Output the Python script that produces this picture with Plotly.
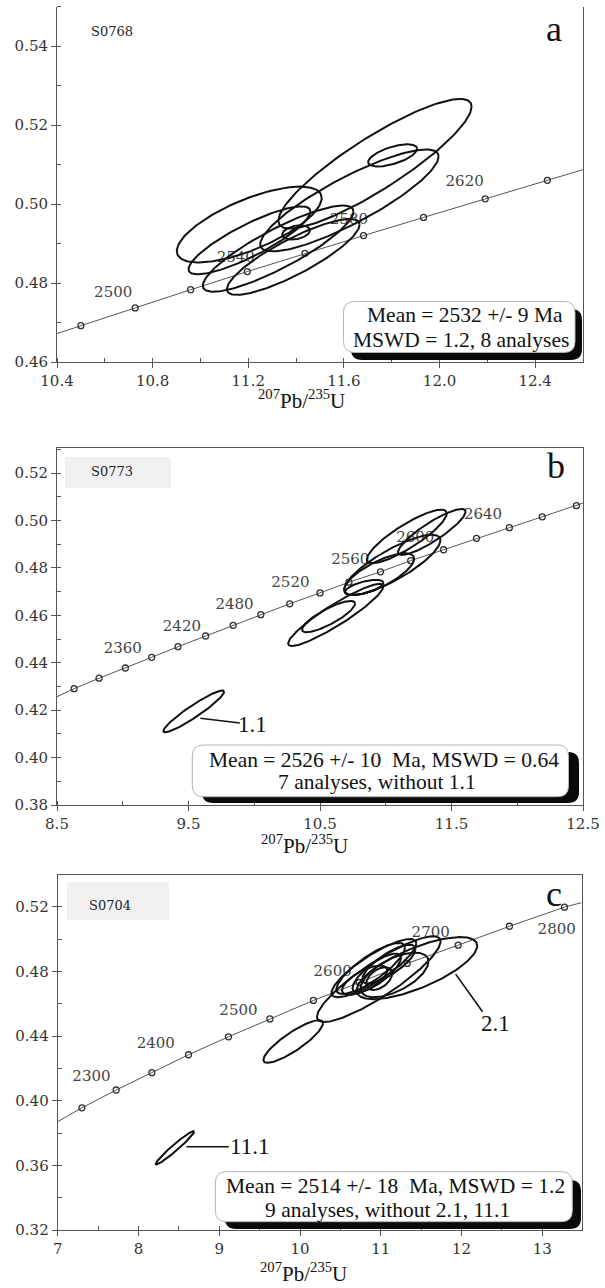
import numpy as np
import plotly.graph_objects as go

W, H = 605, 1288

# ---------------- Panel a (S0768) ----------------
a_tick_x = [10.500, 10.727, 10.959, 11.196, 11.437, 11.682, 11.933, 12.191, 12.451]
a_tick_y = [0.4692, 0.4737, 0.4783, 0.4829, 0.4875, 0.4920, 0.4966, 0.5013, 0.5060]
a_end_x = [10.40, 12.60]
a_end_y = [0.4672, 0.5087]
a_label_text = ["2500", "2540", "2580", "2620"]
a_label_x = [10.635, 11.148, 11.621, 12.105]
a_label_y = [0.4775, 0.4862, 0.4959, 0.5054]
a_cx = [11.730, 11.804, 11.623, 11.204, 11.205, 11.325, 11.388, 11.400]
a_sx = [0.404, 0.1025, 0.373, 0.303, 0.255, 0.315, 0.2775, 0.058]
a_cy = [0.5102, 0.5123, 0.5009, 0.4948, 0.4908, 0.4887, 0.4866, 0.4928]
a_sy = [0.0164, 0.0028, 0.0129, 0.0096, 0.0086, 0.0109, 0.0096, 0.0018]
a_rho = [0.88, 0.60, 0.86, 0.70, 0.85, 0.86, 0.85, 0.30]

# ---------------- Panel b (S0773) ----------------
b_tick_x = [8.63, 8.82, 9.02, 9.22, 9.42, 9.63, 9.84, 10.05, 10.27, 10.50,
            10.72, 10.96, 11.19, 11.44, 11.69, 11.94, 12.19, 12.45]
b_tick_y = [0.4291, 0.4335, 0.4378, 0.4423, 0.4468, 0.4513, 0.4558, 0.4603, 0.4649,
            0.4695, 0.4740, 0.4784, 0.4831, 0.4877, 0.4925, 0.4970, 0.5016, 0.5063]
b_end_x = [8.50, 12.50]
b_end_y = [0.4257, 0.5074]
b_label_text = ["2360", "2420", "2480", "2520", "2560", "2600", "2640"]
b_label_x = [9.00, 9.45, 9.85, 10.275, 10.73, 11.225, 11.74]
b_label_y = [0.4457, 0.4552, 0.4644, 0.4735, 0.4834, 0.4925, 0.5024]
b_cx = [11.160, 11.350, 11.050, 10.950, 10.836, 10.620, 10.565, 9.540]
b_sx = [0.304, 0.257, 0.366, 0.266, 0.146, 0.362, 0.2015, 0.231]
b_cy = [0.4933, 0.4952, 0.4813, 0.4774, 0.4718, 0.4602, 0.4595, 0.4195]
b_sy = [0.0113, 0.0097, 0.0127, 0.0088, 0.0032, 0.0131, 0.0066, 0.0088]
b_rho = [0.86, 0.88, 0.82, 0.74, 0.60, 0.92, 0.83, 0.94]
b_out_text = ["1.1"]
b_out_x = [9.99]
b_out_y = [0.4138]
b_lead_x = [9.59, 9.89]
b_lead_y = [0.4166, 0.4146]

# ---------------- Panel c (S0704) ----------------
c_tick_x = [7.30, 7.724, 8.166, 8.619, 9.114, 9.627, 10.166, 10.733, 11.327, 11.958, 12.593, 13.274]
c_tick_y = [0.3956, 0.4066, 0.4173, 0.4284, 0.4395, 0.4506, 0.4620, 0.4731, 0.4849, 0.4962, 0.5079, 0.5197]
c_end_x = [7.00, 13.485]
c_end_y = [0.3870, 0.5225]
c_label_text = ["2300", "2400", "2500", "2600", "2700", "2800"]
c_label_x = [7.418, 8.214, 9.238, 10.404, 11.618, 13.178]
c_label_y = [0.4142, 0.4348, 0.4556, 0.4797, 0.5034, 0.5055]
c_cx = [10.915, 10.875, 11.170, 10.980, 10.950, 11.100, 10.800, 10.975, 9.916, 11.447, 8.452]
c_sx = [0.525, 0.425, 0.420, 0.160, 0.300, 0.330, 0.280, 0.765, 0.369, 0.747, 0.2375]
c_cy = [0.4820, 0.4818, 0.4778, 0.4755, 0.4790, 0.4845, 0.4745, 0.4752, 0.4366, 0.4820, 0.3709]
c_sy = [0.0180, 0.0158, 0.0138, 0.0070, 0.0120, 0.0120, 0.0090, 0.0265, 0.0132, 0.0192, 0.0103]
c_rho = [0.85, 0.82, 0.60, 0.45, 0.78, 0.78, 0.68, 0.88, 0.86, 0.72, 0.97]
c_out_text = ["11.1", "2.1"]
c_out_x = [9.38, 12.424]
c_out_y = [0.3715, 0.4478]
c_lead1_x = [8.594, 9.118]
c_lead1_y = [0.3715, 0.3715]
c_lead2_x = [11.927, 12.26]
c_lead2_y = [0.4783, 0.4550]

samples = ["S0768", "S0773", "S0704"]
letters = ["a", "b", "c"]
means = [["Mean = 2532 +/- 9 Ma", "MSWD = 1.2, 8 analyses"],
         ["Mean = 2526 +/- 10 \u00a0Ma, MSWD = 0.64", "7 analyses, without 1.1"],
         ["Mean = 2514 +/- 18 \u00a0Ma, MSWD = 1.2", "9 analyses, without 2.1, 11.1"]]

SERIF_W = "DejaVu Serif, Liberation Serif, serif"
SERIF_T = "Liberation Serif, Times New Roman, serif"


def ellipse(cx, sx, cy, sy, rho, n=160):
    t = np.linspace(0, 2 * np.pi, n)
    x = cx + sx * np.cos(t)
    y = cy + sy * (rho * np.cos(t) + np.sqrt(1 - rho ** 2) * np.sin(t))
    return x, y


fig = go.Figure()

panels = [
    dict(tx=a_tick_x, ty=a_tick_y, ex=a_end_x, ey=a_end_y, lt=a_label_text, lx=a_label_x, ly=a_label_y,
         cx=a_cx, sx=a_sx, cy=a_cy, sy=a_sy, rho=a_rho, xa="x", ya="y"),
    dict(tx=b_tick_x, ty=b_tick_y, ex=b_end_x, ey=b_end_y, lt=b_label_text, lx=b_label_x, ly=b_label_y,
         cx=b_cx, sx=b_sx, cy=b_cy, sy=b_sy, rho=b_rho, xa="x2", ya="y2"),
    dict(tx=c_tick_x, ty=c_tick_y, ex=c_end_x, ey=c_end_y, lt=c_label_text, lx=c_label_x, ly=c_label_y,
         cx=c_cx, sx=c_sx, cy=c_cy, sy=c_sy, rho=c_rho, xa="x3", ya="y3"),
]

for p in panels:
    lx = [p["ex"][0]] + list(p["tx"]) + [p["ex"][1]]
    ly = [p["ey"][0]] + list(p["ty"]) + [p["ey"][1]]
    fig.add_trace(go.Scatter(x=lx, y=ly, mode="lines", line=dict(color="#555", width=1),
                             xaxis=p["xa"], yaxis=p["ya"], showlegend=False, hoverinfo="skip"))
    fig.add_trace(go.Scatter(x=p["lx"], y=p["ly"], mode="text", text=p["lt"],
                             textfont=dict(family=SERIF_W, size=15, color="#444"),
                             xaxis=p["xa"], yaxis=p["ya"], showlegend=False, hoverinfo="skip"))
    fig.add_trace(go.Scatter(x=p["tx"], y=p["ty"], mode="markers",
                             marker=dict(symbol="circle-open", size=6, color="#333", line=dict(width=1.3)),
                             xaxis=p["xa"], yaxis=p["ya"], showlegend=False, hoverinfo="skip"))
    for i in range(len(p["cx"])):
        ex, ey = ellipse(p["cx"][i], p["sx"][i], p["cy"][i], p["sy"][i], p["rho"][i])
        fig.add_trace(go.Scatter(x=ex, y=ey, mode="lines", line=dict(color="#111", width=2),
                                 xaxis=p["xa"], yaxis=p["ya"], showlegend=False, hoverinfo="skip"))

# leader lines
for (lx, ly, xa, ya) in [(b_lead_x, b_lead_y, "x2", "y2"), (c_lead1_x, c_lead1_y, "x3", "y3"),
                         (c_lead2_x, c_lead2_y, "x3", "y3")]:
    fig.add_trace(go.Scatter(x=lx, y=ly, mode="lines", line=dict(color="#111", width=1.6),
                             xaxis=xa, yaxis=ya, showlegend=False, hoverinfo="skip"))

annotations = []
for t, x, y in zip(b_out_text, b_out_x, b_out_y):
    annotations.append(dict(x=x, y=y, xref="x2", yref="y2", text=t, showarrow=False,
                            font=dict(family=SERIF_T, size=23, color="#111")))
for t, x, y in zip(c_out_text, c_out_x, c_out_y):
    annotations.append(dict(x=x, y=y, xref="x3", yref="y3", text=t, showarrow=False,
                            font=dict(family=SERIF_T, size=23, color="#111")))


def px(x):
    return x / W


def py(y):
    return 1 - y / H


def rrect(x0, y0, x1, y1, r):
    pts = [
        ("M", x0 + r, y0), ("L", x1 - r, y0), ("Q", x1, y0, x1, y0 + r),
        ("L", x1, y1 - r), ("Q", x1, y1, x1 - r, y1), ("L", x0 + r, y1),
        ("Q", x0, y1, x0, y1 - r), ("L", x0, y0 + r), ("Q", x0, y0, x0 + r, y0),
    ]
    s = ""
    for item in pts:
        cmd = item[0]
        coords = item[1:]
        parts = []
        for k in range(0, len(coords), 2):
            parts.append(f"{px(coords[k]):.5f},{py(coords[k + 1]):.5f}")
        s += cmd + " " + " ".join(parts) + " "
    return s + "Z"


shapes = []
# sample name grey boxes (b, c)
for (x0, y0, x1, y1) in [(65, 457, 171, 488), (67, 882, 169, 920)]:
    shapes.append(dict(type="rect", xref="paper", yref="paper", x0=px(x0), x1=px(x1), y0=py(y1), y1=py(y0),
                       fillcolor="#f1f1f1", line=dict(width=0), layer="below"))

# result boxes with black shadow
boxes = [
    ((343.5, 301.5, 575, 352.5), (351, 309, 582, 360)),
    ((192.3, 745, 568.5, 796.7), (202, 752, 579, 803)),
    ((215.4, 1171.7, 572.3, 1221.7), (225, 1180, 581, 1229)),
]
for (bx, sh) in boxes:
    shapes.append(dict(type="path", xref="paper", yref="paper", path=rrect(*sh, 11),
                       fillcolor="#0a0a0a", line=dict(width=0), layer="above"))
    shapes.append(dict(type="path", xref="paper", yref="paper", path=rrect(*bx, 11),
                       fillcolor="white", line=dict(color="#b5b5b5", width=1), layer="above"))

mean_pos = [[(464.5, 315.0), (460.6, 340.0)],
            [(383.6, 759.5), (377, 782.5)],
            [(395, 1186), (388, 1209.5)]]
for lines, pos in zip(means, mean_pos):
    for t, (x, y) in zip(lines, pos):
        annotations.append(dict(x=px(x), y=py(y), xref="paper", yref="paper", text=t, showarrow=False,
                                xanchor="center", yanchor="middle",
                                font=dict(family=SERIF_T, size=21.5, color="#111")))

sample_pos = [(111.5, 31.7), (111.5, 471.7), (109.6, 905)]
for t, (x, y) in zip(samples, sample_pos):
    annotations.append(dict(x=px(x), y=py(y), xref="paper", yref="paper", text=t, showarrow=False,
                            xanchor="center", yanchor="middle",
                            font=dict(family=SERIF_W, size=13, color="#222")))

letter_pos = [(554, 29), (556, 466), (554, 894)]
for t, (x, y) in zip(letters, letter_pos):
    annotations.append(dict(x=px(x), y=py(y), xref="paper", yref="paper", text=t, showarrow=False,
                            xanchor="center", yanchor="middle",
                            font=dict(family=SERIF_T, size=36, color="#111")))

title_pos = [(301, 400), (304, 845), (303, 1272)]
for (x, y) in title_pos:
    annotations.append(dict(x=px(x), y=py(y), xref="paper", yref="paper",
                            text="<sup>207</sup>Pb/<sup>235</sup>U", showarrow=False,
                            xanchor="center", yanchor="middle",
                            font=dict(family=SERIF_T, size=21, color="#111")))

tickfont = dict(family=SERIF_W, size=15, color="#333")


def xax(domain, rng, tick0, dtick, mdtick, fmt, mirror):
    return dict(domain=domain, range=rng, tick0=tick0, dtick=dtick, tickformat=fmt,
                showline=True, linecolor="#555", linewidth=1, mirror=mirror,
                ticks="outside", ticklen=5, tickcolor="#555", tickwidth=1,
                minor=dict(ticks="inside", ticklen=4, tick0=tick0, dtick=mdtick, tickcolor="#555"),
                showgrid=False, zeroline=False, tickfont=tickfont, automargin=False, fixedrange=True)


def yax(domain, rng, tick0, dtick, mdtick, anchor):
    return dict(domain=domain, range=rng, tick0=tick0, dtick=dtick, tickformat=".2f", anchor=anchor,
                showline=True, linecolor="#555", linewidth=1, mirror=True,
                ticks="outside", ticklen=5, tickcolor="#555", tickwidth=1,
                minor=dict(ticks="inside", ticklen=4, tick0=tick0, dtick=mdtick, tickcolor="#555"),
                showgrid=False, zeroline=False, tickfont=tickfont, automargin=False, fixedrange=True)


xd = [57 / W, 583 / W]
fig.update_layout(
    width=W, height=H, margin=dict(l=0, r=0, t=0, b=0),
    paper_bgcolor="white", plot_bgcolor="white", showlegend=False,
    xaxis=dict(**xax(xd, [10.4, 12.6], 10.4, 0.4, 0.2, ".1f", False), anchor="y"),
    yaxis=yax([py(362), py(6.5)], [0.46, 0.55], 0.46, 0.02, 0.01, "x"),
    xaxis2=dict(**xax(xd, [8.5, 12.5], 8.5, 1.0, 0.5, ".1f", True), anchor="y2"),
    yaxis2=yax([py(805), py(448.3)], [0.38, 0.5305], 0.38, 0.02, 0.01, "x2"),
    xaxis3=dict(**xax([57.7 / W, 581.5 / W], [7, 13.485], 7, 1.0, 0.5, "d", True), anchor="y3"),
    yaxis3=yax([py(1230), py(875)], [0.32, 0.5396], 0.32, 0.04, 0.02, "x3"),
    shapes=shapes, annotations=annotations,
)

fig.write_html("out.html", config={"displayModeBar": False},
               post_script="document.body.style.margin='0';document.body.style.padding='0';")
